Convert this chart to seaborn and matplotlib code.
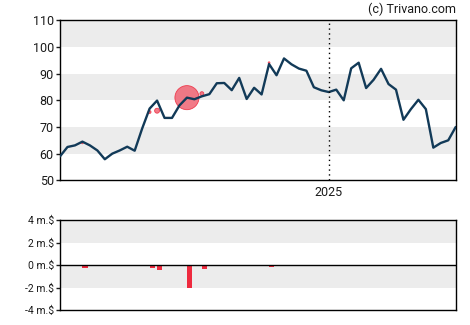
import numpy as np
import pandas as pd
import matplotlib
matplotlib.use("Agg")
import matplotlib.pyplot as plt
import seaborn as sns

# Weekly closing prices
start_date = "2024-04-24"
prices = [59.0, 62.5, 63.1, 64.5, 63.1, 61.2, 57.9, 60.0, 61.2, 62.6,
          61.1, 69.4, 76.9, 79.9, 73.4, 73.4, 78.1, 81.0, 80.4, 81.5,
          82.3, 86.4, 86.5, 83.8, 88.4, 80.5, 84.7, 82.2, 93.6, 89.4,
          95.7, 93.5, 91.9, 91.1, 84.9, 83.75, 83.1, 84.0, 80.0, 92.0,
          94.1, 84.6, 87.7, 91.8, 86.1, 84.0, 72.7, 76.7, 80.2, 76.7,
          62.25, 64.0, 65.0, 70.0]

# Insider transactions: date, price and value (million $)
trade_dates = ["2024-05-15", "2024-07-17", "2024-07-24", "2024-08-21",
               "2024-09-04", "2024-11-06"]
trade_prices = [64.0, 75.6, 76.1, 81.0, 82.5, 94.1]
trade_values = [-0.24, -0.24, -0.42, -2.04, -0.33, -0.15]

price_ticks = [50, 60, 70, 80, 90, 100, 110]
value_ticks = [-4, -2, 0, 2, 4]
value_labels = ["-4 m.$", "-2 m.$", "0 m.$", "2 m.$", "4 m.$"]
year_marker = "2025-01-01"
year_label = "2025"

dates = pd.date_range(start_date, periods=len(prices), freq="7D")
df = pd.DataFrame({"date": dates, "price": prices})
tdf = pd.DataFrame({"date": pd.to_datetime(trade_dates),
                    "price": trade_prices,
                    "value": trade_values})

sns.set_style("white")
plt.rcParams["font.family"] = ["Roboto", "DejaVu Sans"]

fig = plt.figure(figsize=(4.7, 3.25), dpi=100)
ax = fig.add_axes([0.1277, 0.4452, 0.8419, 0.4923])
ax2 = fig.add_axes([0.1277, 0.0452, 0.8419, 0.2770])

line_color = "#123a58"
red = "#ee2a3e"
band = "#ececec"

# Price panel
for lo in (60, 80, 100):
    ax.axhspan(lo, lo + 10, color=band, zorder=0, lw=0)

# bubble radius in px proportional to transaction value
radius_px = 5.9 * np.abs(tdf["value"].to_numpy())
radius_px[0] = 0.8
sizes = (2 * radius_px * 72 / 100) ** 2
ax.scatter(tdf["date"], tdf["price"], s=sizes, color="#f06473",
           alpha=0.85, edgecolor=red, linewidth=0.6, zorder=2)
sns.lineplot(data=df, x="date", y="price", ax=ax, color=line_color,
             linewidth=1.7, zorder=3)

ax.axvline(pd.Timestamp(year_marker), color="black", linestyle=(0, (1, 2.5)),
           linewidth=1.0, zorder=4)
ax.set_xlim(dates[0], dates[-1])
ax.set_ylim(50, 110)
ax.set_yticks(price_ticks)
ax.set_xticks([pd.Timestamp(year_marker)])
ax.set_xticklabels([year_label])
ax.set_xlabel("")
ax.set_ylabel("")
ax.tick_params(axis="y", length=3, width=1, labelsize=9, pad=1.5,
               colors="#1a1a1a", left=True)
ax.tick_params(axis="x", length=0, labelsize=9, pad=4, colors="#1a1a1a")
for s in ax.spines.values():
    s.set_color("black")
    s.set_linewidth(1.0)

fig.text(0.9696, 0.993, "(c) Trivano.com", ha="right", va="top",
         fontsize=9, color="#1a1a1a")

# Transaction value panel
for lo in (-2, 2):
    ax2.axhspan(lo, lo + 2, color=band, zorder=0, lw=0)
ax2.bar(tdf["date"], tdf["value"], width=pd.Timedelta(days=5),
        align="edge", color=red, linewidth=0, zorder=2)
ax2.axhline(0, color="black", linewidth=1.0, zorder=3)
ax2.set_xlim(dates[0], dates[-1])
ax2.set_ylim(-4, 4)
ax2.set_yticks(value_ticks)
ax2.set_yticklabels(value_labels)
ax2.set_xticks([])
ax2.tick_params(axis="y", length=3, width=1, labelsize=7.5, pad=1.5,
                colors="#1a1a1a", left=True)
for s in ax2.spines.values():
    s.set_color("black")
    s.set_linewidth(1.0)

fig.savefig("out.png", dpi=100)
